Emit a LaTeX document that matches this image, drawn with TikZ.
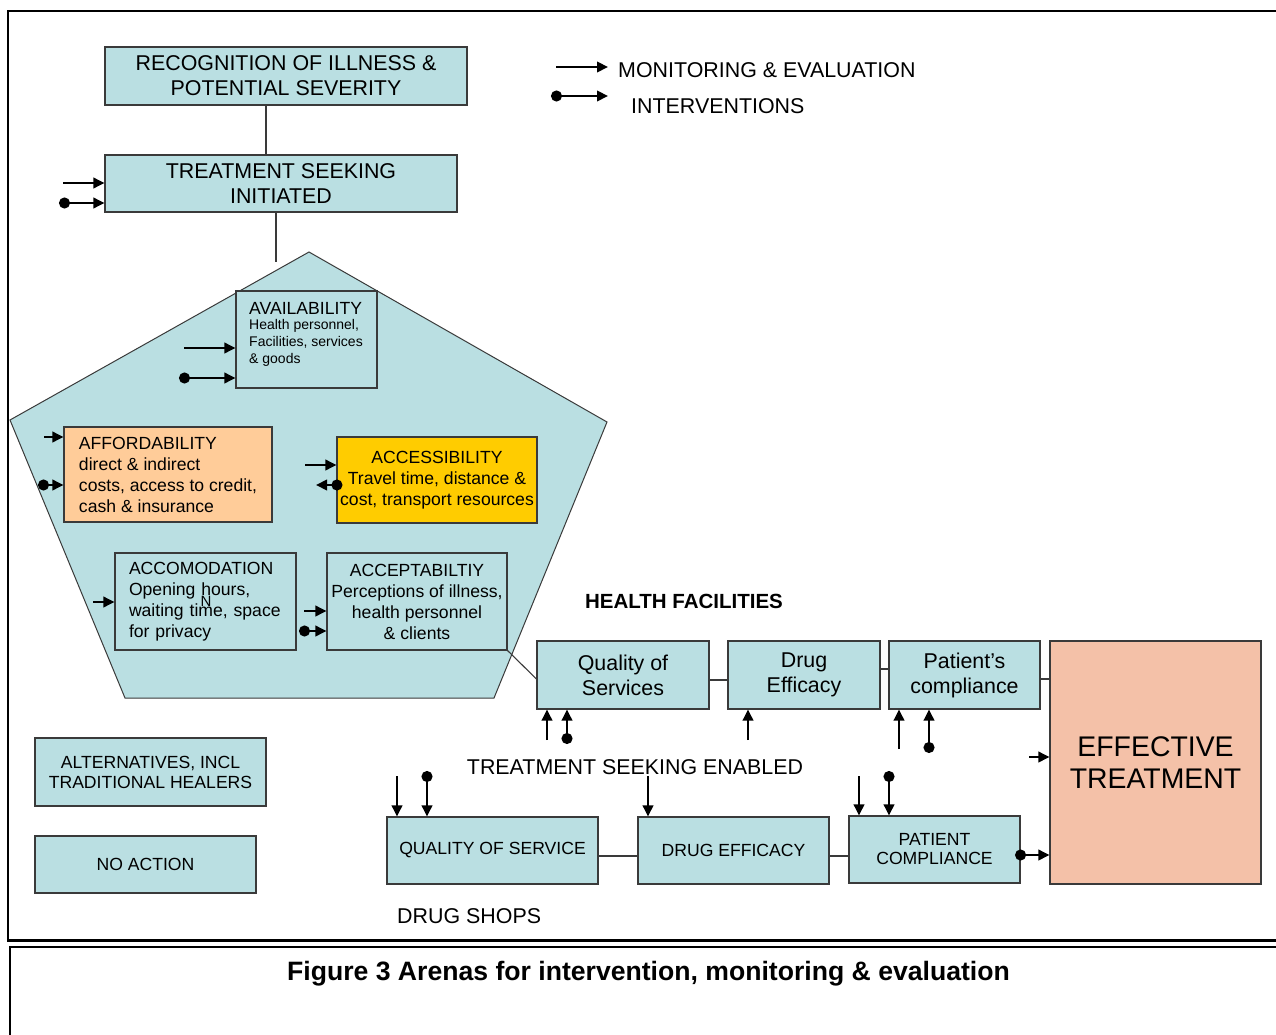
\documentclass[tikz,border=0pt]{standalone}
\usepackage{fontspec}
\setmainfont{Liberation Sans}
\usetikzlibrary{arrows.meta}
\definecolor{boxblue}{HTML}{BADFE2}
\definecolor{boxline}{HTML}{3A3A3A}
\definecolor{peach}{HTML}{FFCC99}
\definecolor{gold}{HTML}{FFCC00}
\definecolor{salmon}{HTML}{F4C1A8}
\begin{document}
\begin{tikzpicture}[x=1pt,y=-1pt,
  box/.style={draw=boxline, fill=boxblue, line width=1.1pt, inner sep=0pt, align=center},
  big/.style={font=\fontsize{21.4}{25}\selectfont},
  mid/.style={font=\fontsize{17.6}{21}\selectfont},
  conn/.style={draw=boxline, line width=1.1pt},
  me/.style={line width=2.1pt, -{Triangle[length=11pt,width=10.5pt]}},
  iv/.style={line width=2.1pt, {Circle[length=11pt]}-{Triangle[length=11pt,width=10.5pt]}},
  txt/.style={inner sep=0pt}]
\useasboundingbox (0,0) rectangle (1276,1035);
% frames
\draw[line width=2.6pt] (1300,11) -- (8,11) -- (8,940.5) -- (1300,940.5);
\draw[line width=1.6pt] (1300,947) -- (10,947) -- (10,1060);
% pentagon
\draw[draw=boxline, fill=boxblue, line width=1pt] (309,252) -- (607,422) -- (494,698) -- (125,698) -- (10,420) -- cycle;
% top boxes
\node[box, big, minimum width=362pt, minimum height=58pt] (rec) at (286,76) {RECOGNITION OF ILLNESS \&\\POTENTIAL SEVERITY};
\node[box, big, minimum width=352pt, minimum height=57pt] (treat) at (281,183.5) {TREATMENT SEEKING\\INITIATED};
\draw[conn] ([xshift=-20pt]rec.south) -- ([xshift=-20pt]rec.south |- treat.north);
\coordinate (tend) at (276,262);
\draw[conn] ([xshift=-5pt]treat.south) -- (tend);
% legend
\coordinate (lm1) at (556,67); \coordinate (lm2) at (608,67);
\coordinate (li1) at (551,96); \coordinate (li2) at (608,96);
\draw[me] (lm1) -- (lm2);
\draw[iv] (li1) -- (li2);
\node[txt, big, anchor=west] (legme) at (618,70) {MONITORING \& EVALUATION};
\node[txt, big, anchor=west] (legiv) at (631,106) {INTERVENTIONS};
% arrows to treatment seeking
\coordinate (m1) at (63,183); \coordinate (i1) at (59,203);
\draw[me] (m1) -- (m1 -| treat.west);
\draw[iv] (i1) -- (i1 -| treat.west);
% pentagon boxes
\node[box, minimum width=141pt, minimum height=97pt] (avail) at (306.5,339.5) {};
\node[txt, anchor=west, font=\fontsize{17.6}{21}\selectfont] (availt) at (249,308) {AVAILABILITY};
\node[txt, anchor=north west, align=left, font=\fontsize{14}{16.8}\selectfont] (availd) at (249,319.5) {Health personnel,\\Facilities, services\\\& goods};
\coordinate (m2) at (184,348); \coordinate (i2) at (179,378);
\draw[me] (m2) -- (m2 -| avail.west);
\draw[iv] (i2) -- (i2 -| avail.west);

\node[box, fill=peach, mid, minimum width=208pt, minimum height=95pt, align=left] (afford) at (168,474.5) {AFFORDABILITY\\direct \& indirect\\costs, access to credit,\\cash \& insurance};
\coordinate (m3) at (44,437); \coordinate (i3) at (38,485);
\draw[me] (m3) -- (m3 -| afford.west);
\draw[iv] (i3) -- (i3 -| afford.west);

\node[box, fill=gold, mid, minimum width=200pt, minimum height=86pt] (access) at (437,480) {ACCESSIBILITY\\Travel time, distance \&\\cost, transport resources};
\coordinate (m4) at (305,465); \coordinate (i4) at (316,485);
\coordinate (i4s) at ([xshift=6pt]access.west);
\draw[me] (m4) -- (m4 -| access.west);
\draw[iv] (i4s |- i4) -- (i4);

\node[box, mid, minimum width=181pt, minimum height=97pt, text width=153pt, align=left] (accom) at (205.5,601.5) {ACCOMODATION\\Opening hours,\\waiting time, space\\for privacy};
\node[txt, font=\fontsize{15}{15}\selectfont] (stray) at (206,601) {N};
\coordinate (m5) at (93,602);
\draw[me] (m5) -- (m5 -| accom.west);

\node[box, mid, minimum width=180pt, minimum height=97pt] (accept) at (417,601.5) {ACCEPTABILTIY\\Perceptions of illness,\\health personnel\\\& clients};
\coordinate (m6) at (304,611); \coordinate (i6) at (299,631);
\draw[me] (m6) -- (m6 -| accept.west);
\draw[iv] (i6) -- (i6 -| accept.west);

% health facilities
\node[txt, font=\fontsize{20.5}{24}\selectfont\bfseries] (hf) at (684,601) {HEALTH FACILITIES};
\node[box, big, minimum width=172pt, minimum height=68pt] (qos) at (623,675) {Quality of\\Services};
\node[box, big, minimum width=152pt, minimum height=68pt] (drug) at (804,675) {Drug\\Efficacy};
\node[box, big, minimum width=151pt, minimum height=68pt] (pat) at (964.5,675) {Patient’s\\compliance};
\node[box, fill=salmon, font=\fontsize{28.4}{32}\selectfont, minimum width=211pt, minimum height=243pt] (eff) at (1155.5,762.5) {EFFECTIVE\\TREATMENT};
\draw[conn] (accept.south east) -- ([yshift=-4pt]qos.west);
\draw[conn] ([yshift=-5pt]qos.east) -- ([yshift=-5pt]qos.east -| drug.west);
\draw[conn] ([yshift=6pt]drug.east) -- ([yshift=6pt]drug.east -| pat.west);
\draw[conn] ([yshift=-4pt]pat.east) -- ([yshift=-4pt]pat.east -| eff.west);
\coordinate (m7) at (547,740); \coordinate (i7) at (567,744);
\draw[me] (m7) -- (m7 |- qos.south);
\draw[iv] (i7) -- (i7 |- qos.south);
\coordinate (m8) at (748,740);
\draw[me] (m8) -- (m8 |- drug.south);
\coordinate (m9) at (899,749); \coordinate (i9) at (929,753);
\draw[me] (m9) -- (m9 |- pat.south);
\draw[iv] (i9) -- (i9 |- pat.south);
\coordinate (m10) at (1029,757);
\draw[me] (m10) -- (m10 -| eff.west);

\node[txt, big] (tse) at (635,767) {TREATMENT SEEKING ENABLED};

% left boxes
\node[box, font=\fontsize{17.6}{20}\selectfont, minimum width=231pt, minimum height=68pt] (alt) at (150.5,772) {ALTERNATIVES, INCL\\TRADITIONAL HEALERS};
\node[box, mid, minimum width=221pt, minimum height=57pt] (noact) at (145.5,864.5) {NO ACTION};

% drug shops
\node[box, mid, minimum width=211pt, minimum height=67pt] (dqos) at (492.5,850.5) {QUALITY OF SERVICE};
\node[box, mid, minimum width=191pt, minimum height=67pt] (ddrug) at (733.5,850.5) {DRUG EFFICACY};
\node[box, font=\fontsize{17.6}{19}\selectfont, minimum width=171pt, minimum height=67pt] (dpat) at (934.5,849.5) {PATIENT\\COMPLIANCE};
\draw[conn] ([yshift=-5.5pt]dqos.east) -- ([yshift=-5.5pt]dqos.east -| ddrug.west);
\draw[conn] ([yshift=-5.5pt]ddrug.east) -- ([yshift=-5.5pt]ddrug.east -| dpat.west);
\coordinate (m11) at (397,776); \coordinate (i11) at (427,771);
\draw[me] (m11) -- (m11 |- dqos.north);
\draw[iv] (i11) -- (i11 |- dqos.north);
\coordinate (m12) at (648,776);
\draw[me] (m12) -- (m12 |- ddrug.north);
\coordinate (m13) at (859,776); \coordinate (i13) at (889,771);
\draw[me] (m13) -- (m13 |- dpat.north);
\draw[iv] (i13) -- (i13 |- dpat.north);
\coordinate (i10) at ([xshift=-5.5pt,yshift=-5.5pt]dpat.east);
\draw[iv] (i10) -- (i10 -| eff.west);

\node[txt, big, anchor=west] (ds) at (397,916) {DRUG SHOPS};

% caption
\node[txt, font=\fontsize{26.6}{30}\selectfont\bfseries] (cap) at (648.5,974) {Figure 3 Arenas for intervention, monitoring \& evaluation};
\end{tikzpicture}
\end{document}
